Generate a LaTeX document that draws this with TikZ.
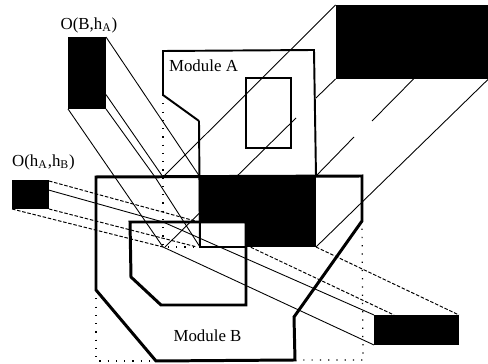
\documentclass[tikz,border=0pt]{standalone}
\usepackage{fontspec}
\setmainfont{Liberation Serif}
\usetikzlibrary{calc,positioning}

\begin{document}
\begin{tikzpicture}[
  x=0.02cm,
  y=-0.02cm,
  every node/.style={font=\fontsize{9.6}{11}\selectfont},
  solidbox/.style={fill=black, inner sep=0pt, outer sep=0pt},
  projline/.style={line width=0.5pt},
  projdash/.style={line width=0.55pt, dash pattern=on 2pt off 1pt},
  boundline/.style={line width=0.7pt, dash pattern=on 0.7pt off 4pt},
  moduleA/.style={line width=1.1pt, line join=miter},
  moduleB/.style={line width=1.7pt, line join=miter},
  windowbox/.style={line width=1.5pt},
]
\useasboundingbox (0,0) rectangle (488,364);

\node[solidbox, minimum width=0.76cm, minimum height=1.44cm] (BhA) at (87,73) {};
\node[solidbox, minimum width=0.74cm, minimum height=0.58cm] (hAhB) at (30.5,194.5) {};
\node[solidbox, minimum width=3.06cm, minimum height=1.48cm] (ABbox) at (412,42) {};
\node[solidbox, minimum width=1.70cm, minimum height=0.60cm] (BAbox) at (416.5,330) {};
\node (BhAlabel) at (89,25) {O(B,h\textsubscript{A})};
\node (hAhBlabel) at (43.5,162) {O(h\textsubscript{A},h\textsubscript{B})};
\node (labelA) at (203.5,66) {Module A};
\node (labelB) at (207.5,336) {Module B};

\coordinate (A1) at (163,51);
\coordinate (A2) at (314,50);
\coordinate (A3) at (316,176);
\coordinate (A4) at (199,176);
\coordinate (A5) at (199,121);
\coordinate (A6) at (163,95);
\coordinate (Q1) at (163,177);
\coordinate (Q2) at (200,177);
\coordinate (Q3) at (163,247);
\coordinate (Q4) at (200,247);
\coordinate (Q5) at (199,222);
\coordinate (Q6) at (163,222);
\coordinate (Q7) at (246,222);
\coordinate (Q8) at (246,247);
\coordinate (Q9) at (316,247);
\coordinate (B1) at (96,177);
\coordinate (B2) at (362,176);
\coordinate (B3) at (362,221);
\coordinate (B4) at (294,317);
\coordinate (B5) at (295,360);
\coordinate (B6) at (156,361);
\coordinate (B7) at (96,290);
\coordinate (B8) at (96,361);
\coordinate (B9) at (363,360);
\coordinate (C1) at (130,222);
\coordinate (C2) at (131,277);
\coordinate (C3) at (161,305);
\coordinate (C4) at (246,305);
\coordinate (gapA) at (316,98);
\coordinate (gapB) at (296,118);
\coordinate (gapC) at (372,121);
\coordinate (gapD) at (354,137);
\coordinate (dashA) at (246,245);

\draw[projline] (ABbox.north west) -- (Q1);
\draw[projline] (ABbox.south west) -- (gapA);
\draw[projline] (gapB) -- (165,247);
\draw[projline] ($(ABbox.south west)!0.51!(ABbox.south east)$) -- (gapC);
\draw[projline] (gapD) -- (A3);
\draw[projline] (ABbox.south east) -- (Q9);

\draw[projline] (BhA.north east) -- (Q2);
\draw[projline] ($(BhA.north east)!0.8!(BhA.south east)$) -- (Q1);
\draw[projline] (BhA.south east) -- (155,177) -- (Q4);
\draw[projline] (BhA.south west) -- (Q3);

\draw[projdash] ($(hAhB.north east)+(0,1)$) -- (Q5);
\draw[projline] ($(hAhB.north east)!0.35!(hAhB.south east)$) -- (Q6) -- (BAbox.north west);
\draw[projdash] (hAhB.south east) -- (197,247);
\draw[projdash] (hAhB.south west) -- (Q3);
\draw[projline] (Q3) -- (BAbox.south west);
\draw[projdash] (dashA) -- (394,315);
\draw[projdash] (Q9) -- (BAbox.north east);

\draw[boundline] (A6) -- (Q3) -- (Q4);
\draw[boundline] (B7) -- (B8) -- (B6);
\draw[boundline] (B5) -- (B9) -- (B3);

\fill (A4) -- (A3) -- (Q9) -- (Q8) -- (Q7) -- (Q5) -- cycle;

\draw[moduleA] (A5) -- (A6) -- (A1) -- (A2) -- (A3);
\draw[moduleA] (A5) -- (Q4) -- (Q8);
\draw[windowbox] (246,78) rectangle (291,148);
\draw[moduleB] (B1) -- (B2) -- (B3) -- (B4) -- (B5) -- (B6) -- (B7) -- cycle;
\draw[moduleB] (Q7) -- (C1) -- (C2) -- (C3) -- (C4) -- (Q7);
\end{tikzpicture}
\end{document}
